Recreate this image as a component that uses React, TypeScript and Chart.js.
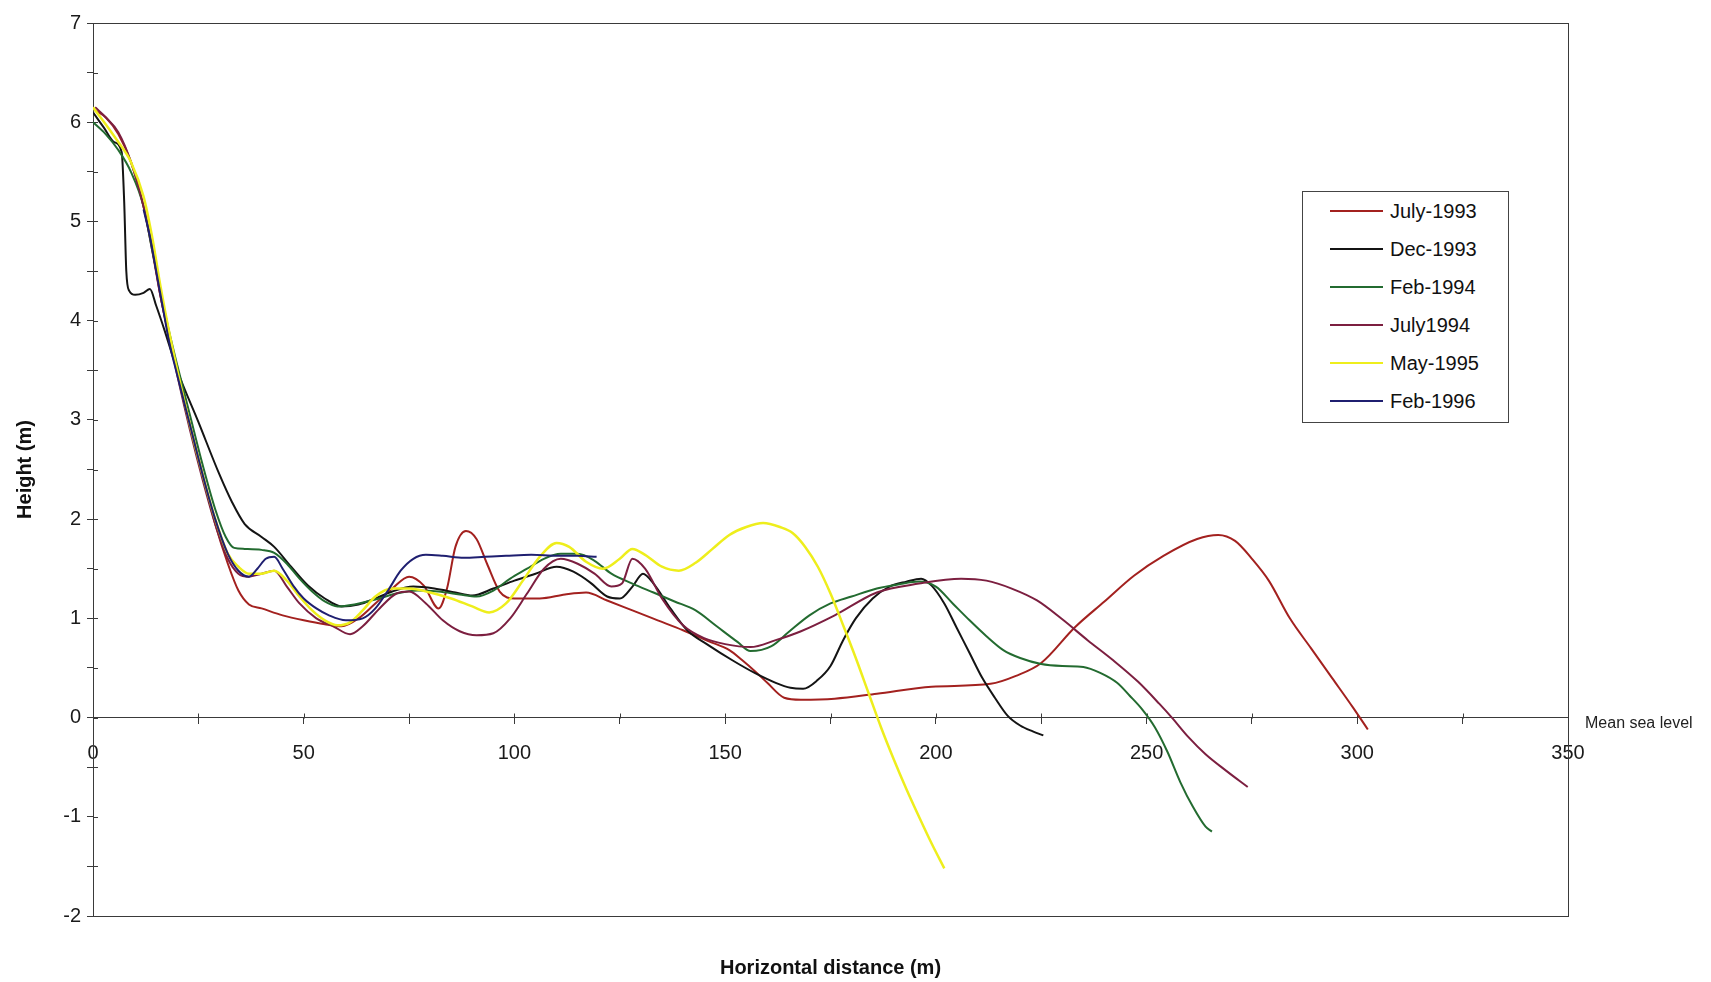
import React, { useEffect, useRef } from "react";
import { Chart, registerables } from "chart.js";

Chart.register(...registerables);

const FONT = "'Liberation Sans', Arial, Helvetica, sans-serif";

// ---- data ----
const seriesNames = ["July-1993", "Dec-1993", "Feb-1994", "July1994", "May-1995", "Feb-1996"];
const seriesColors = ["#a3211f", "#141414", "#236b30", "#7c1f40", "#eeee1c", "#1f1f70"];

const xTickLabels = [0, 50, 100, 150, 200, 250, 300, 350];
const yTickLabels = [-2, -1, 0, 1, 2, 3, 4, 5, 6, 7];

const july1993X = [0.5, 3, 6, 9, 12, 14, 16, 18, 20, 23, 26, 29, 32, 34.5, 37, 40, 45, 50, 55, 59, 63, 67, 71, 75, 78.5, 82, 84, 86, 88.5, 91, 93.5, 96.5, 100, 106, 112, 117, 122, 128, 134, 140, 146, 151, 154, 157, 160, 164, 168, 176, 186, 199, 213, 219, 225, 233, 240, 247, 254, 262, 267, 271, 275, 279, 284, 289, 294, 299, 302.5];
const july1993Y = [6.12, 6.05, 5.88, 5.6, 5.15, 4.72, 4.25, 3.85, 3.5, 2.95, 2.45, 1.95, 1.55, 1.28, 1.14, 1.1, 1.03, 0.98, 0.94, 0.92, 1.0, 1.15, 1.3, 1.42, 1.33, 1.1, 1.3, 1.72, 1.88, 1.8, 1.55, 1.27, 1.2, 1.2, 1.24, 1.26, 1.18, 1.08, 0.98, 0.88, 0.77, 0.68, 0.58, 0.47, 0.35, 0.2, 0.18, 0.19, 0.24, 0.31, 0.34, 0.42, 0.55, 0.91, 1.17, 1.43, 1.63, 1.8, 1.84, 1.78, 1.6, 1.38, 1.0, 0.7, 0.4, 0.1, -0.12];

const dec1993X = [0, 2.5, 5, 6.8, 7.4, 7.9, 8.6, 10, 12, 13.5, 15, 17, 20, 25, 30, 33, 36, 40, 43, 47, 51, 55, 59, 63, 67, 71, 76, 81, 86, 90, 95, 100, 105, 110, 114, 118, 122, 125, 128, 130.5, 133, 137, 141, 146, 152, 157, 162, 165.5, 168.5, 172, 175, 178, 181, 185, 189, 193, 196.5, 199, 202, 205, 208, 211, 214, 217, 220, 223, 225.5];
const dec1993Y = [6.1, 5.95, 5.8, 5.7, 5.2, 4.5, 4.3, 4.26, 4.28, 4.32, 4.15, 3.9, 3.5, 2.98, 2.45, 2.17, 1.95, 1.82, 1.72, 1.52, 1.33, 1.2, 1.12, 1.14, 1.2, 1.27, 1.32, 1.3, 1.26, 1.23, 1.3, 1.38, 1.45, 1.52, 1.47, 1.36, 1.22, 1.2, 1.32, 1.45, 1.35, 1.1, 0.88, 0.73, 0.57, 0.45, 0.35, 0.3, 0.29, 0.38, 0.52, 0.78, 1.0, 1.2, 1.32, 1.37, 1.4, 1.33, 1.15, 0.9, 0.65, 0.4, 0.2, 0.02, -0.08, -0.14, -0.18];

const feb1994X = [0, 3, 6, 9, 12, 14, 16, 18, 20, 23, 26, 29, 31.5, 33.5, 36, 40, 43, 46, 49, 52, 55, 58, 62, 67, 72, 77, 82, 87, 91, 95, 99, 103, 107, 111, 115, 119, 123, 128, 133, 138, 143, 148, 153, 156, 161, 165, 170, 175, 180, 186, 191, 196, 200, 204, 208, 212, 216, 220, 225, 230, 235, 239, 243, 246, 249, 252, 255, 258, 261, 264, 265.5];
const feb1994Y = [6.0, 5.88, 5.72, 5.5, 5.15, 4.72, 4.3, 3.9, 3.55, 3.05, 2.55, 2.1, 1.82, 1.71, 1.7, 1.69, 1.66, 1.55, 1.4, 1.27, 1.17, 1.12, 1.14, 1.19, 1.25, 1.28, 1.27, 1.24, 1.22, 1.28, 1.4, 1.5, 1.6, 1.65, 1.65, 1.58, 1.45, 1.35, 1.26, 1.17, 1.08, 0.92, 0.76, 0.67, 0.72, 0.86, 1.03, 1.15, 1.22, 1.3, 1.34, 1.37, 1.32, 1.15, 0.98, 0.82, 0.68, 0.6, 0.54, 0.52, 0.51, 0.45, 0.35, 0.22, 0.08, -0.1, -0.35, -0.65, -0.9, -1.1, -1.15];

const july1994X = [0.5, 3, 6, 9, 12, 14, 16, 18, 20, 23, 26, 29, 32, 34.5, 37, 40, 43, 46, 49, 53, 57, 61, 64, 68, 72, 75, 79, 83, 87, 91, 95, 99, 103, 107, 111, 115, 119, 123, 125.5, 128, 131, 135, 140, 145, 150, 156, 162, 168, 176, 186, 196, 206, 212, 218, 224, 230, 236, 242, 248, 253, 256, 260, 264, 269, 274];
const july1994Y = [6.15, 6.05, 5.9, 5.6, 5.15, 4.75, 4.25, 3.85, 3.45, 2.9, 2.4, 1.95, 1.6, 1.45, 1.42, 1.45, 1.48, 1.32, 1.15, 1.0, 0.92, 0.84, 0.92, 1.1, 1.25, 1.27, 1.15, 0.98, 0.87, 0.83, 0.85, 1.0, 1.25, 1.5, 1.6, 1.55, 1.45, 1.32, 1.35, 1.6, 1.5, 1.2, 0.93, 0.8, 0.74, 0.71, 0.78, 0.87, 1.03, 1.26, 1.35, 1.4, 1.38, 1.3, 1.18, 0.99, 0.78, 0.58, 0.36, 0.14, 0.0, -0.2, -0.37, -0.54, -0.7];

const may1995X = [0, 3, 6, 9, 12, 14, 16, 18, 20, 23, 26, 29, 32, 34.5, 37, 40, 43, 46, 49, 52, 55, 58, 61, 64, 67, 71, 75, 80, 85, 90, 94, 98, 102, 106, 110, 113, 117, 121, 125, 128, 131, 135, 139, 143, 147, 151, 155, 159, 163, 166, 169, 172, 175, 178, 181, 184, 187, 190, 193, 196, 199, 202];
const may1995Y = [6.15, 5.98, 5.8, 5.6, 5.25, 4.85, 4.35, 3.9, 3.5, 2.95, 2.45, 2.0, 1.65, 1.52, 1.45, 1.45, 1.48, 1.38, 1.22, 1.08, 0.98, 0.93, 0.96, 1.08, 1.22, 1.3, 1.3, 1.26, 1.2, 1.12, 1.06, 1.15, 1.38, 1.62, 1.76, 1.72, 1.57, 1.5, 1.6, 1.7, 1.64, 1.52, 1.48, 1.56, 1.7, 1.84, 1.92, 1.96, 1.92, 1.86, 1.72, 1.52, 1.25, 0.93, 0.6, 0.25, -0.1, -0.42, -0.72, -1.0, -1.27, -1.52];

const feb1996X = [12, 13.5, 15, 16.5, 18, 20, 23, 26, 29, 32, 34.5, 37, 39, 41, 43, 45, 47.5, 50, 53, 56, 60, 64, 67, 70, 73, 76, 79, 83, 88, 93, 98, 104, 110, 115, 119.5];
const feb1996Y = [5.12, 4.85, 4.5, 4.15, 3.8, 3.45, 2.95, 2.45, 2.0, 1.65, 1.48, 1.42, 1.5, 1.6, 1.62, 1.5, 1.33, 1.2, 1.1, 1.03, 0.98, 1.0, 1.1, 1.28, 1.48, 1.6, 1.64, 1.63, 1.61, 1.62, 1.63, 1.64, 1.63, 1.63, 1.62];

const seriesX = [july1993X, dec1993X, feb1994X, july1994X, may1995X, feb1996X];
const seriesY = [july1993Y, dec1993Y, feb1994Y, july1994Y, may1995Y, feb1996Y];

const framePlugin = {
  id: "frame",
  beforeDatasetsDraw(chart: any) {
    const { ctx, chartArea: a, scales } = chart;
    const xs = scales.x;
    const ys = scales.y;
    ctx.save();
    ctx.strokeStyle = "#3a3a3a";
    ctx.lineWidth = 1;
    ctx.strokeRect(Math.round(a.left) + 0.5, Math.round(a.top) + 0.5, Math.round(a.right - a.left), Math.round(a.bottom - a.top));
    const y0 = Math.round(ys.getPixelForValue(0)) + 0.5;
    ctx.beginPath();
    xs.ticks.forEach((t: any) => {
      const px = Math.round(xs.getPixelForValue(t.value)) + 0.5;
      ctx.moveTo(px, y0 - 5);
      ctx.lineTo(px, y0);
    });
    ys.ticks.forEach((t: any) => {
      const py = Math.round(ys.getPixelForValue(t.value)) + 0.5;
      ctx.moveTo(a.left, py);
      ctx.lineTo(a.left + 5, py);
    });
    ctx.stroke();
    ctx.restore();
  },
  afterDraw(chart: any) {
    const { ctx, chartArea: a, scales } = chart;
    const y0 = scales.y.getPixelForValue(0);
    ctx.save();
    ctx.fillStyle = "#222";
    ctx.font = `16px ${FONT}`;
    ctx.textBaseline = "middle";
    ctx.textAlign = "left";
    ctx.fillText("Mean sea level", a.right + 17, y0 + 6);
    ctx.restore();
  },
};

export default function App() {
  const canvasRef = useRef<HTMLCanvasElement | null>(null);

  useEffect(() => {
    document.body.style.margin = "0";
    const canvas = canvasRef.current;
    if (!canvas) return;
    const datasets = seriesNames.map((name, i) => ({
      label: name,
      data: seriesX[i].map((x, j) => ({ x, y: seriesY[i][j] })),
      borderColor: seriesColors[i],
      backgroundColor: seriesColors[i],
      borderWidth: i === 4 ? 2.5 : 2,
      pointRadius: 0,
      showLine: true,
      fill: false,
      cubicInterpolationMode: "monotone" as const,
      order: seriesNames.length - 1 - i,
    }));
    const chart = new Chart(canvas, {
      type: "scatter",
      data: { datasets },
      plugins: [framePlugin],
      options: {
        responsive: false,
        maintainAspectRatio: false,
        animation: false,
        devicePixelRatio: 1,
        events: [],
        layout: { padding: { left: 0, top: 23, right: 143, bottom: 66 } },
        plugins: { legend: { display: false }, tooltip: { enabled: false } },
        scales: {
          x: {
            type: "linear",
            position: { y: 0 } as any,
            min: 0,
            max: 350,
            border: { display: true, color: "#3a3a3a", width: 1 },
            grid: { display: true, drawOnChartArea: false, drawTicks: true, tickLength: 6, color: "#3a3a3a" },
            ticks: {
              stepSize: 25,
              autoSkip: false,
              maxRotation: 0,
              padding: 18,
              color: "#1a1a1a",
              font: { size: 20, family: FONT },
              callback: (v: any) => (xTickLabels.includes(Number(v)) ? String(v) : ""),
            },
            title: {
              display: true,
              text: "Horizontal distance (m)",
              color: "#111",
              font: { size: 20, weight: "bold", family: FONT },
              padding: { top: 173, bottom: 0 },
            },
          },
          y: {
            type: "linear",
            position: "left",
            min: -2,
            max: 7,
            afterFit: (scale: any) => {
              scale.width = 93;
            },
            border: { display: true, color: "#3a3a3a", width: 1 },
            grid: { display: true, drawOnChartArea: false, drawTicks: true, tickLength: 6, color: "#3a3a3a" },
            ticks: {
              stepSize: 0.5,
              autoSkip: false,
              padding: 6,
              color: "#1a1a1a",
              font: { size: 20, family: FONT },
              callback: (v: any) => (yTickLabels.includes(Number(v)) ? String(v) : ""),
            },
            title: {
              display: true,
              text: "Height (m)",
              color: "#111",
              font: { size: 20, weight: "bold", family: FONT },
              padding: { top: 13, bottom: 0 },
            },
          },
        },
      },
    });
    return () => chart.destroy();
  }, []);

  return (
    <div style={{ position: "relative", width: 1711, height: 982, background: "#fff", fontFamily: FONT }}>
      <canvas ref={canvasRef} width={1711} height={982} style={{ display: "block", width: 1711, height: 982 }} />
      <div
        style={{
          position: "absolute",
          left: 1302,
          top: 191,
          width: 207,
          height: 232,
          boxSizing: "border-box",
          border: "1.5px solid #444",
          background: "#fff",
          paddingTop: 0,
        }}
      >
        {seriesNames.map((name, i) => (
          <div key={name} style={{ display: "flex", alignItems: "center", height: 38 }}>
            <div style={{ marginLeft: 27, width: 53, height: 2, background: seriesColors[i] }} />
            <span style={{ marginLeft: 7, fontSize: 20, color: "#111", lineHeight: "38px" }}>{name}</span>
          </div>
        ))}
      </div>
    </div>
  );
}
